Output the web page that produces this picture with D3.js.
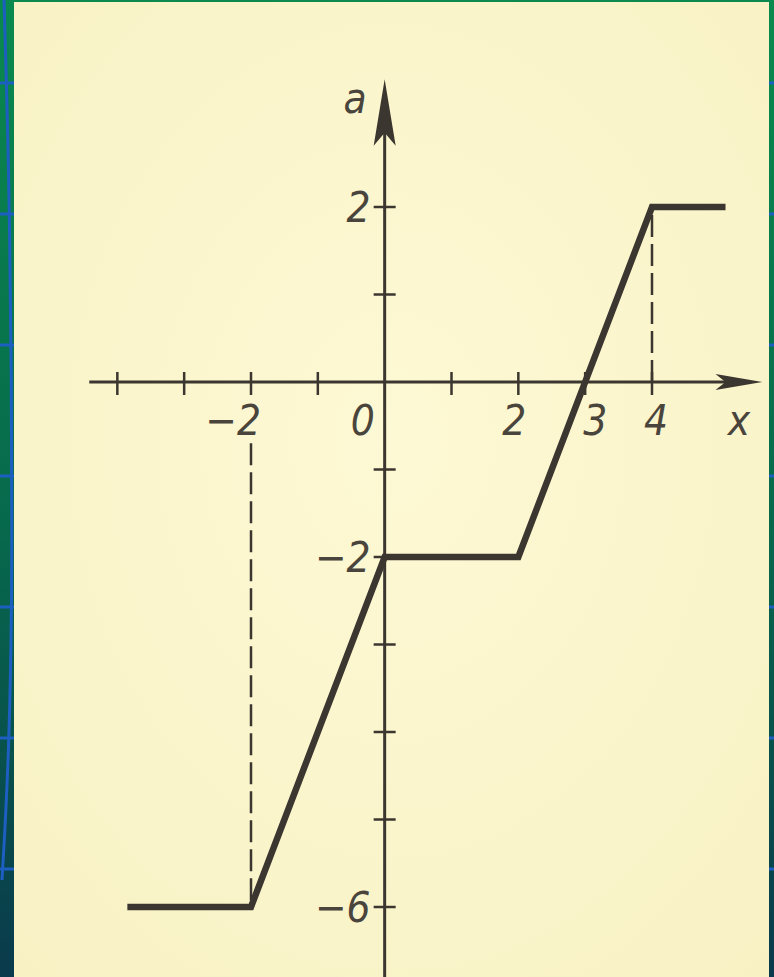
<!DOCTYPE html>
<html>
<head>
<meta charset="utf-8">
<script src="https://cdn.jsdelivr.net/npm/d3@7"></script>
<style>
  html, body { margin: 0; padding: 0; background: #0b5a4a; }
  svg { display: block; }
  .lbl { font-family: "Liberation Sans Narrow", "DejaVu Sans Condensed", "Liberation Sans", sans-serif;
         font-style: italic; fill: #4a453c; }
</style>
</head>
<body>
<div id="chart"></div>
<script>
'use strict'
// piecewise graph a(x)
const graphX = [-3.85, -2, 0, 2, 4, 5.1]
const graphY = [-6, -6, -2, -2, 2, 2]
const xTicks = [-4, -3, -2, -1, 1, 2, 3, 4]
const yTicks = [2, 1, -1, -2, -3, -4, -5, -6]
const xLabelValues = [-2, 0, 2, 3, 4]
const xLabelTexts = ["\u22122", "0", "2", "3", "4"]
const yLabelValues = [2, -2, -6]
const yLabelTexts = ["2", "\u22122", "\u22126"]
const dashedX = [-2, 4]
const dashedFrom = [-0.7, 0]
const dashedTo = [-6, 2]
const frameMarks = [83, 214, 345, 476, 607, 738, 869]

const W = 774, H = 977
const ink = "#3b362f"

const svg = d3.select("#chart").append("svg")
  .attr("width", W).attr("height", H)

const defs = svg.append("defs")
const grad = defs.append("linearGradient")
  .attr("id", "frame").attr("x1", 0).attr("y1", 0).attr("x2", 0).attr("y2", 1)
grad.append("stop").attr("offset", "0%").attr("stop-color", "#0a8a4e")
grad.append("stop").attr("offset", "55%").attr("stop-color", "#07684c")
grad.append("stop").attr("offset", "100%").attr("stop-color", "#0a3a4c")

const paperGrad = defs.append("radialGradient").attr("id", "paper")
  .attr("cx", "50%").attr("cy", "45%").attr("r", "75%")
paperGrad.append("stop").attr("offset", "0%").attr("stop-color", "#fdf9d4")
paperGrad.append("stop").attr("offset", "100%").attr("stop-color", "#f8f1c4")

// slide frame
svg.append("rect").attr("width", W).attr("height", H).attr("fill", "url(#frame)")
frameMarks.forEach(m => {
  svg.append("line").attr("x1", 0).attr("x2", 14).attr("y1", m).attr("y2", m)
    .attr("stroke", "#1d5fc0").attr("stroke-width", 3)
  svg.append("line").attr("x1", 769).attr("x2", W).attr("y1", m).attr("y2", m)
    .attr("stroke", "#1d5fc0").attr("stroke-width", 3)
})
svg.append("path")
  .attr("d", d3.line().curve(d3.curveBasis)([[4, 0], [10, 200], [13, 560], [9, 760], [2, 880]]))
  .attr("fill", "none").attr("stroke", "#1d5fc0").attr("stroke-width", 3)

// paper
svg.append("rect").attr("x", 14).attr("y", 2).attr("width", 755).attr("height", H - 2)
  .attr("fill", "url(#paper)")

const x = d3.scaleLinear().domain([-2, 4]).range([251, 652])
const y = d3.scaleLinear().domain([2, -6]).range([207, 907])

const g = svg.append("g")

// x axis
g.append("line")
  .attr("x1", x(-4.42)).attr("x2", x(5.2))
  .attr("y1", y(0)).attr("y2", y(0))
  .attr("stroke", ink).attr("stroke-width", 3)
g.append("path")
  .attr("d", `M${x(5.65)},${y(0)} L${x(4.95)},${y(0) - 8} L${x(5.1)},${y(0)} L${x(4.95)},${y(0) + 8} Z`)
  .attr("fill", ink)
g.selectAll(".xt").data(xTicks).enter()
  .append("line")
    .attr("x1", d => x(d)).attr("x2", d => x(d))
    .attr("y1", y(0) - 10).attr("y2", y(0) + 13)
    .attr("stroke", ink).attr("stroke-width", 2.5)

// y axis
g.append("line")
  .attr("x1", x(0)).attr("x2", x(0))
  .attr("y1", y(3.0)).attr("y2", H)
  .attr("stroke", ink).attr("stroke-width", 3)
g.append("path")
  .attr("d", `M${x(0)},${y(3.46)} L${x(0) + 11},${y(2.7)} L${x(0)},${y(2.85)} L${x(0) - 11},${y(2.7)} Z`)
  .attr("fill", ink)
g.selectAll(".yt").data(yTicks).enter()
  .append("line")
    .attr("x1", x(0) - 11).attr("x2", x(0) + 11)
    .attr("y1", d => y(d)).attr("y2", d => y(d))
    .attr("stroke", ink).attr("stroke-width", 2.5)

// dashed guides
g.selectAll(".dash").data(dashedX).enter()
  .append("line")
    .attr("x1", d => x(d)).attr("x2", d => x(d))
    .attr("y1", (d, i) => y(dashedFrom[i])).attr("y2", (d, i) => y(dashedTo[i]))
    .attr("stroke", ink).attr("stroke-width", 2.5)
    .attr("stroke-dasharray", "22,7")

// graph
const pts = graphX.map((d, i) => [x(d), y(graphY[i])])
g.append("path")
  .attr("d", d3.line()(pts))
  .attr("fill", "none").attr("stroke", ink)
  .attr("stroke-width", 6.5).attr("stroke-linejoin", "miter")

// labels: digit sits under its tick, minus sign hangs to the left
const xOffset = d => d < 0 ? 10 : d === 0 ? -22 : d === 2 ? -4 : d === 3 ? 10 : 4
g.selectAll(".xl").data(xLabelValues).enter()
  .append("text").attr("class", "lbl")
    .attr("x", d => x(d) + xOffset(d))
    .attr("y", y(0) + 53)
    .attr("text-anchor", d => d < 0 ? "end" : "middle")
    .attr("font-size", 42)
    .text((d, i) => xLabelTexts[i])
g.append("text").attr("class", "lbl")
  .attr("x", x(5.3)).attr("y", y(0) + 53)
  .attr("text-anchor", "middle").attr("font-size", 42)
  .text("x")
g.selectAll(".yl").data(yLabelValues).enter()
  .append("text").attr("class", "lbl")
    .attr("x", x(0) - 14)
    .attr("y", d => y(d) + 15)
    .attr("text-anchor", "end")
    .attr("font-size", 42)
    .text((d, i) => yLabelTexts[i])
g.append("text").attr("class", "lbl")
  .attr("x", x(0) - 18).attr("y", y(3.08))
  .attr("text-anchor", "end").attr("font-size", 42)
  .text("a")
</script>
</body>
</html>
